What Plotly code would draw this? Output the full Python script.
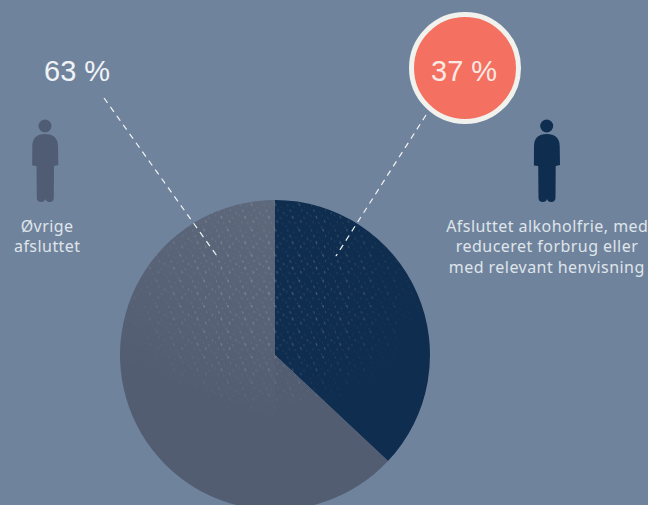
import base64
import plotly.graph_objects as go

# Data
slice_labels = ["Afsluttet alkoholfrie, med reduceret forbrug eller med relevant henvisning", "Øvrige afsluttet"]
slice_values = [37, 63]
slice_colors = ["#0f2d4e", "#525d72"]
pct_left = "63 %"
pct_right = "37 %"
left_caption = ["Øvrige", "afsluttet"]
right_caption = ["Afsluttet alkoholfrie, med", "reduceret forbrug eller", "med relevant henvisning"]

W, H = 648, 510
BG = "#70839d"
FONT = "Noto Sans"
TXT = "#dfe5ea"


def px(x):
    return x / W


def py(y):
    return 1 - y / H


def person(dx, color):
    def p(x, y):
        return f"{px(x + dx):.5f},{py(y):.5f}"
    path = (
        f"M {p(32.3,146)} Q {p(32.5,134)} {p(45,134)} Q {p(57.7,134)} {p(58,146)} "
        f"L {p(58.3,165)} L {p(54,166)} L {p(53.8,198)} Q {p(53.5,202)} {p(49.5,202)} "
        f"Q {p(46,202)} {p(45.3,199)} Q {p(44.5,202)} {p(41,202)} Q {p(37,202)} {p(36.8,198)} "
        f"L {p(36.5,166)} L {p(32.2,165.5)} Z"
    )
    return [
        dict(type="path", path=path, xref="paper", yref="paper", fillcolor=color,
             line=dict(width=0), layer="above"),
        dict(type="circle", xref="paper", yref="paper",
             x0=px(38.5 + dx), x1=px(51.5 + dx), y0=py(132.5), y1=py(119.5),
             fillcolor=color, line=dict(width=0), layer="above"),
    ]


def dashed(x0, y0, x1, y1):
    return dict(type="line", xref="paper", yref="paper", x0=px(x0), y0=py(y0), x1=px(x1), y1=py(y1),
                line=dict(color="#f2f4f4", width=1.2, dash="6px,5px"), layer="above")


# Decorative paper-like texture over the pie: an irregular tile of slanted specks
specks = [(3, 2, .5, 1.6, .9), (10, 4, .6, 1.1, .6), (17, 1.5, .8, 2.0, 1), (24, 5, .5, 1.2, .5),
          (6, 9, .7, 1.8, .8), (13, 11, .5, 1.0, .5), (20, 8.5, .6, 1.5, .8), (27, 12, .7, 1.7, .7),
          (2, 15, .6, 1.2, .6), (9, 17, .8, 2.1, 1), (16, 15, .5, 1.2, .5), (23, 18, .6, 1.4, .8),
          (5, 23, .5, 1.5, .7), (12, 24, .6, 1.3, .6), (19, 22, .7, 1.9, .9), (26, 25, .5, 1.1, .5),
          (1, 28, .6, 1.2, .5), (15, 29, .5, 1.5, .7)]
marks = "".join(
    f'<ellipse cx="{x}" cy="{y}" rx="{a}" ry="{b}" fill="#fff" opacity="{o}" transform="rotate(-22 {x} {y})"/>'
    for x, y, a, b, o in specks
)
svg = f'''<svg xmlns="http://www.w3.org/2000/svg" width="{W}" height="{H}" viewBox="0 0 {W} {H}">
<defs>
<pattern id="t" width="29" height="31" patternUnits="userSpaceOnUse" patternTransform="scale(0.82)">{marks}</pattern>
<radialGradient id="g" gradientUnits="userSpaceOnUse" cx="272" cy="285" r="150" gradientTransform="translate(272 285) scale(1.05 0.92) translate(-272 -285)">
<stop offset="0" stop-color="#fff" stop-opacity="0.30"/>
<stop offset="0.6" stop-color="#fff" stop-opacity="0.20"/>
<stop offset="1" stop-color="#fff" stop-opacity="0"/>
</radialGradient>
<linearGradient id="l" gradientUnits="userSpaceOnUse" x1="275" y1="200" x2="200" y2="400">
<stop offset="0" stop-color="#fff" stop-opacity="0.07"/>
<stop offset="1" stop-color="#fff" stop-opacity="0"/>
</linearGradient>
<mask id="m"><rect width="{W}" height="{H}" fill="url(#g)"/></mask>
<clipPath id="c"><circle cx="275" cy="355" r="155"/></clipPath>
</defs>
<g clip-path="url(#c)">
<rect x="120" y="200" width="155" height="310" fill="url(#l)"/>
<rect width="{W}" height="{H}" fill="url(#t)" mask="url(#m)"/>
</g></svg>'''
texture = "data:image/svg+xml;base64," + base64.b64encode(svg.encode()).decode()

fig = go.Figure(go.Pie(
    labels=slice_labels, values=slice_values, sort=False, direction="clockwise", rotation=0,
    marker=dict(colors=slice_colors, line=dict(width=0)),
    textinfo="none", hoverinfo="label+percent", showlegend=False,
    domain=dict(x=[px(120), px(430)], y=[0, 310 / H]),
))

shapes = [
    dashed(104, 98, 217, 256),
    dashed(426, 115, 336, 256),
    dict(type="circle", xref="paper", yref="paper", x0=px(411.5), x1=px(518.5), y0=py(121.5), y1=py(14.5),
         fillcolor="#f47060", line=dict(color="#f1f2ee", width=5), layer="above"),
] + person(0, "#505c73") + person(501.7, "#0f2d4e")

annotations = [
    dict(text=pct_left, x=px(76.5), y=py(71), font=dict(family="Liberation Sans", size=29, color="#f0f3f5")),
    dict(text=pct_right, x=px(463.5), y=py(71), font=dict(family="Liberation Sans", size=29, color="#fbe9e4")),
]
for t, yy in zip(left_caption, [226, 246]):
    annotations.append(dict(text=t, x=px(47), y=py(yy), font=dict(family=FONT, size=16, color=TXT)))
for t, yy in zip(right_caption, [226, 246, 266.5]):
    annotations.append(dict(text=t, x=px(546.5), y=py(yy), font=dict(family=FONT, size=16, color=TXT)))
for a in annotations:
    a.update(xref="paper", yref="paper", xanchor="center", yanchor="middle", showarrow=False)

fig.update_layout(
    width=W, height=H, margin=dict(l=0, r=0, t=0, b=0), autosize=False,
    paper_bgcolor=BG, plot_bgcolor=BG, shapes=shapes, annotations=annotations,
    images=[dict(source=texture, xref="paper", yref="paper", x=0, y=1, sizex=1, sizey=1,
                 xanchor="left", yanchor="top", sizing="stretch", layer="above")],
)
spacing_js = """
document.documentElement.style.overflow='hidden';
document.body.style.overflow='hidden';
document.body.style.margin='0';
document.querySelectorAll('.annotation-text').forEach(function(t){
  if (t.textContent.indexOf('%') < 0) { t.style.letterSpacing = '0.45px'; }
});
"""
fig.write_html("out.html", config=dict(displayModeBar=False), post_script=spacing_js)
